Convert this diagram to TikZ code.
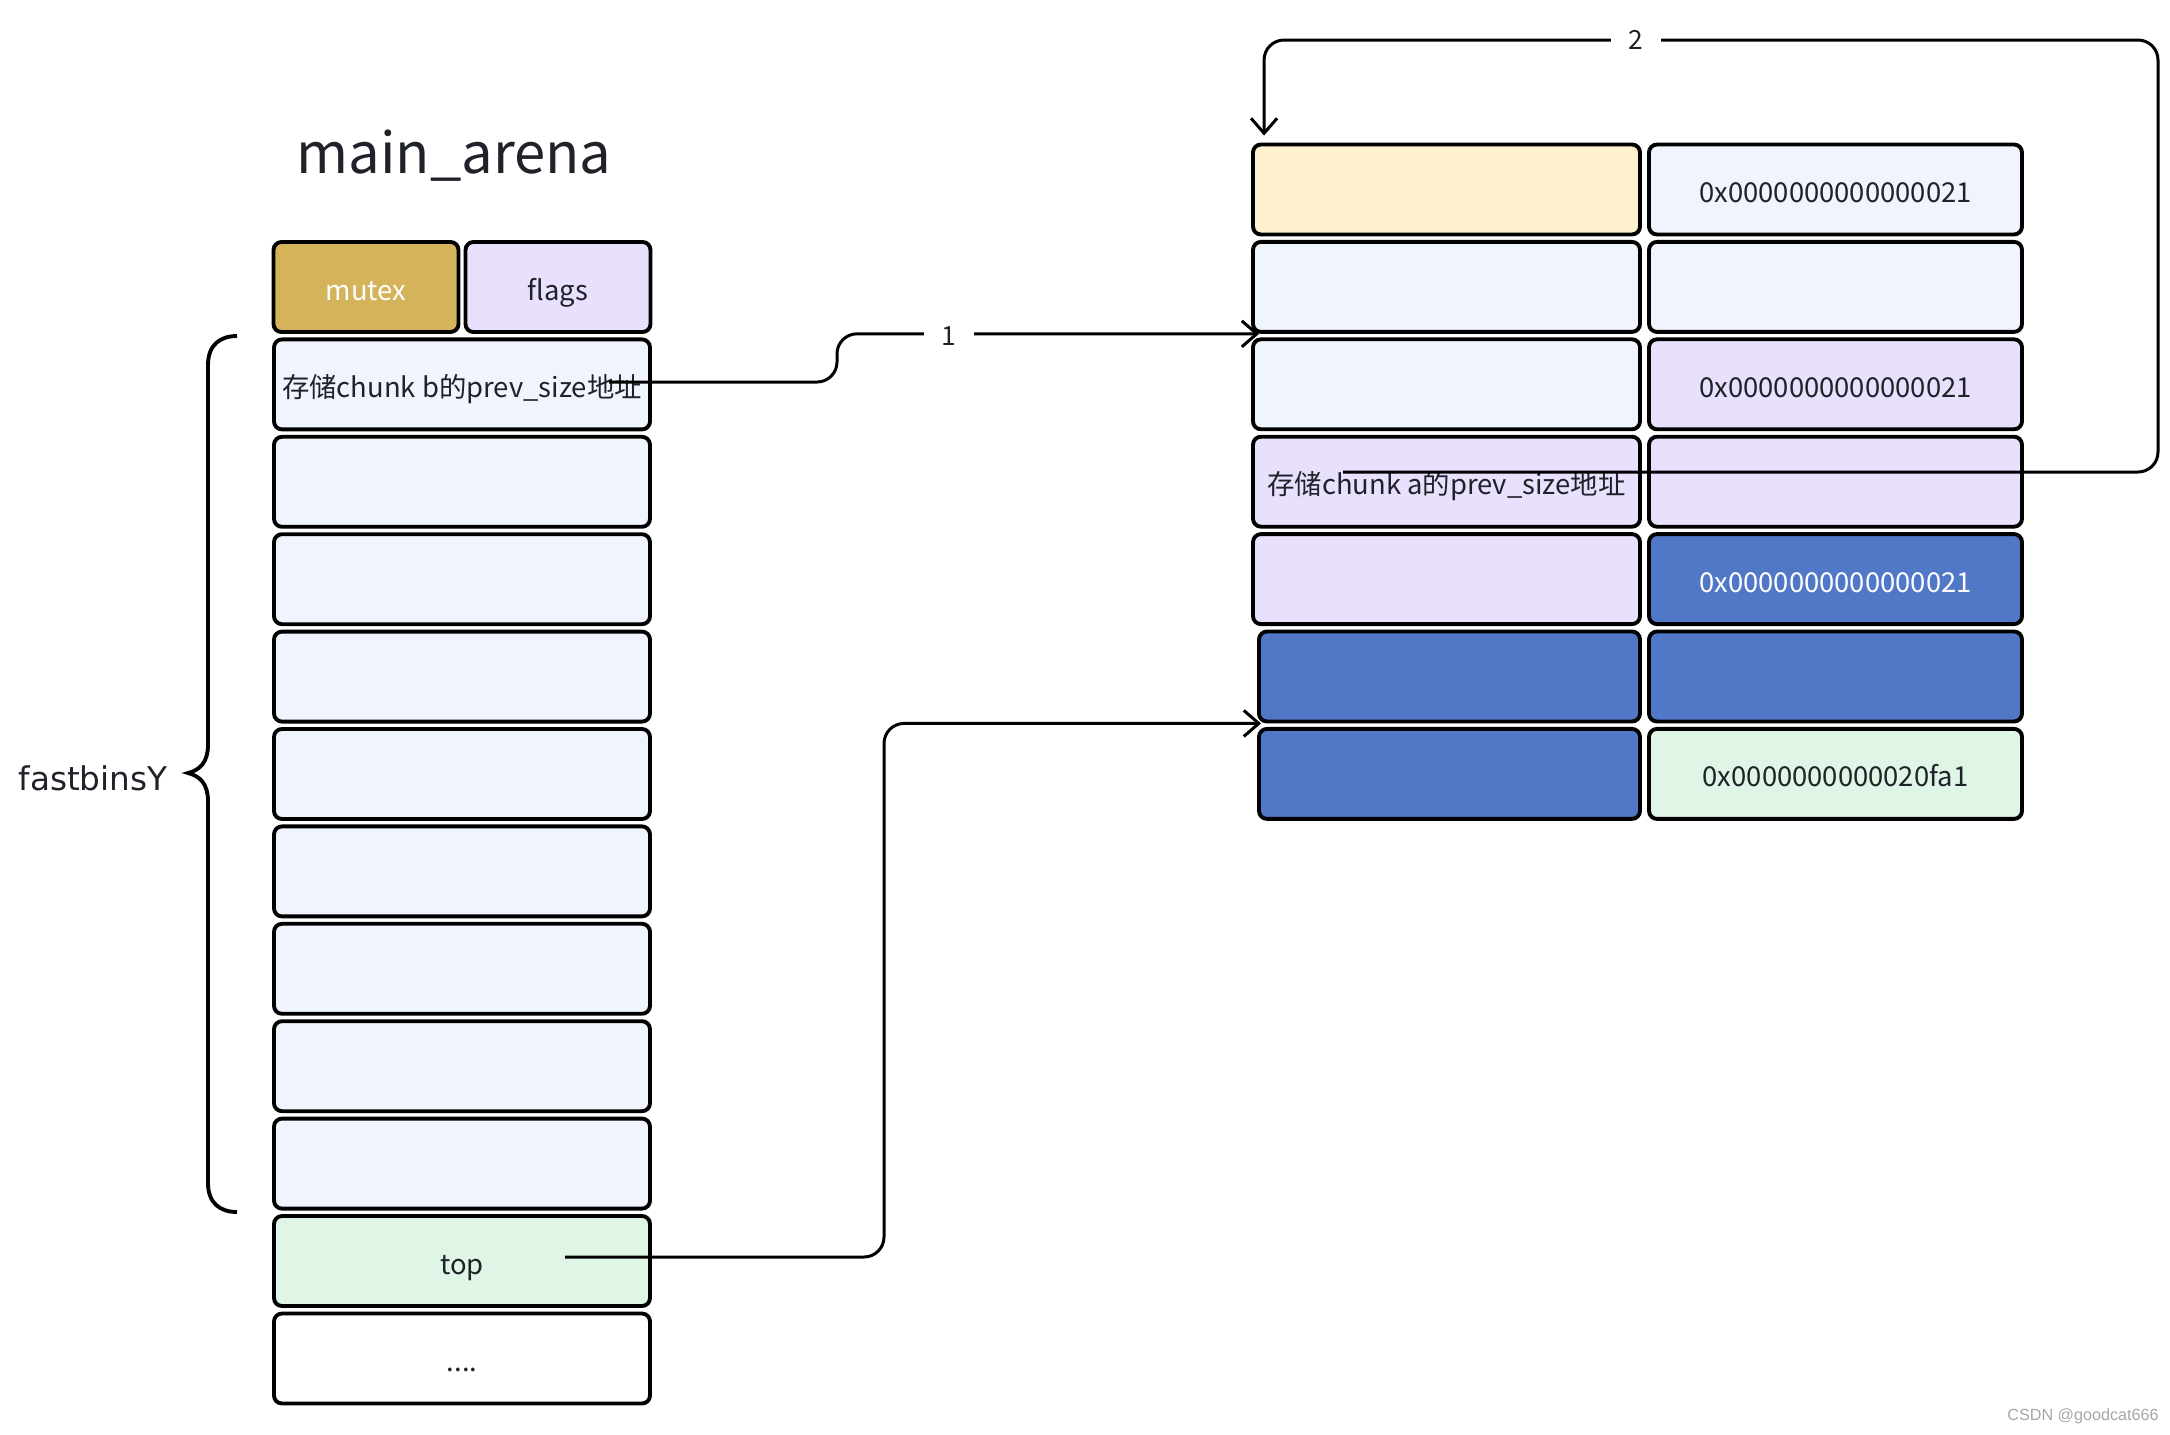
\documentclass[tikz,border=0pt]{standalone}
\usepackage{fontspec}
\setmainfont{Noto Sans CJK SC}
\newfontfamily\bracefont{DejaVu Sans}
\newfontfamily\markfont{Liberation Sans}
\usetikzlibrary{arrows.meta,positioning,calc}

\definecolor{gold}{RGB}{212,179,90}
\definecolor{lilac}{RGB}{233,224,253}
\definecolor{ice}{RGB}{239,244,253}
\definecolor{cream}{RGB}{254,241,206}
\definecolor{royal}{RGB}{80,120,198}
\definecolor{mint}{RGB}{223,245,229}
\definecolor{ink}{RGB}{31,35,41}

\tikzset{
  cell/.style={draw=black, line width=1.1pt, rounded corners=0.08cm, fill=ice, inner sep=0pt,
    minimum height=0.90cm, text height=0.29cm, text depth=0.03cm, text=ink,
    font=\fontsize{7.8pt}{9.5pt}\selectfont},
  wide/.style={cell, minimum width=3.76cm},
  half/.style={cell, minimum width=1.85cm},
  lcol/.style={cell, minimum width=3.87cm},
  rcol/.style={cell, minimum width=3.73cm},
  conn/.style={line width=0.85pt, rounded corners=0.2cm},
  lbl/.style={fill=white, inner xsep=0.18cm, inner ysep=0.05cm, text=ink, font=\fontsize{7.5pt}{9pt}\selectfont},
}

\begin{document}
\begin{tikzpicture}[>={Straight Barb[length=1.5mm,width=2.6mm]}]
    \useasboundingbox (0,0) rectangle (21.7,-14.34);
    % main_arena
    \node[text=ink, font=\fontsize{16pt}{19pt}\selectfont] (title) at (4.54,-1.56) {main\_arena};
    \node[half, fill=gold, text=white] (mutex) at (3.66,-2.87) {mutex};
    \node[half, fill=lilac] (flags) at (5.58,-2.87) {flags};
    \node[wide] (L1) at (4.62,-3.844) {存储chunk b的prev\_size地址};
    \foreach \k in {2,...,9}{\node[wide] (L\k) at (4.62,{-2.87-0.974*\k}) {};}
    \node[wide, fill=mint] (L10) at (4.62,-12.61) {top};
    \node[wide, fill=white] (L11) at (4.62,-13.585) {....};
    % fastbinsY brace
    \draw[line width=1.1pt] (2.37,-3.36) .. controls (2.20,-3.36) and (2.08,-3.45) .. (2.08,-3.65)
        -- (2.08,-7.45) .. controls (2.08,-7.62) and (2.0,-7.70) .. (1.88,-7.73)
        .. controls (2.0,-7.76) and (2.08,-7.84) .. (2.08,-8.01)
        -- (2.08,-11.83) .. controls (2.08,-12.03) and (2.20,-12.12) .. (2.37,-12.12);
    \node[text=ink, font=\bracefont\fontsize{9.3pt}{11pt}\selectfont] (fb) at (0.93,-7.78) {fastbinsY};
    % chunks
    \node[lcol, fill=cream] (R1a) at (14.465,-1.895) {};
    \node[rcol] (R1b) at (18.355,-1.895) {0x0000000000000021};
    \node[lcol] (R2a) at (14.465,-2.869) {};
    \node[rcol] (R2b) at (18.355,-2.869) {};
    \node[lcol] (R3a) at (14.465,-3.843) {};
    \node[rcol, fill=lilac] (R3b) at (18.355,-3.843) {0x0000000000000021};
    \node[lcol, fill=lilac] (R4a) at (14.465,-4.817) {存储chunk a的prev\_size地址};
    \node[rcol, fill=lilac] (R4b) at (18.355,-4.817) {};
    \node[lcol, fill=lilac] (R5a) at (14.465,-5.791) {};
    \node[rcol, fill=royal, text=white] (R5b) at (18.355,-5.791) {0x0000000000000021};
    \node[lcol, fill=royal, minimum width=3.81cm] (R6a) at (14.495,-6.765) {};
    \node[rcol, fill=royal] (R6b) at (18.355,-6.765) {};
    \node[lcol, fill=royal, minimum width=3.81cm] (R7a) at (14.495,-7.739) {};
    \node[rcol, fill=mint] (R7b) at (18.355,-7.739) {0x0000000000020fa1};
    % pointers
    \coordinate (bsrc) at (6.09,-3.82);
    \coordinate (asrc) at (13.43,-4.72);
    \coordinate (tsrc) at (5.65,-12.57);
    \coordinate (k1) at (8.37,0);
    \coordinate (k2) at (21.58,-0.40);
    \coordinate (k3) at (8.84,0);
    \draw[conn,->] (bsrc) -| (k1 |- R2a.south west) -- ($(R2a.south west)+(0.08,0)$);
    \draw[conn,->] (asrc) -| (k2) -| ($(R1a.north west)+(0.13,0.07)$);
    \draw[conn,->] (tsrc) -| (k3 |- R6a.south west) -- ($(R6a.south west)+(0.04,0)$);
    \node[lbl] (n1) at (9.49,-3.36) {1};
    \node[lbl] (n2) at (16.36,-0.40) {2};
    \node[text=gray!70, font=\markfont\fontsize{4.6pt}{6pt}\selectfont] (wm) at (20.83,-14.16) {CSDN @goodcat666};
\end{tikzpicture}
\end{document}
